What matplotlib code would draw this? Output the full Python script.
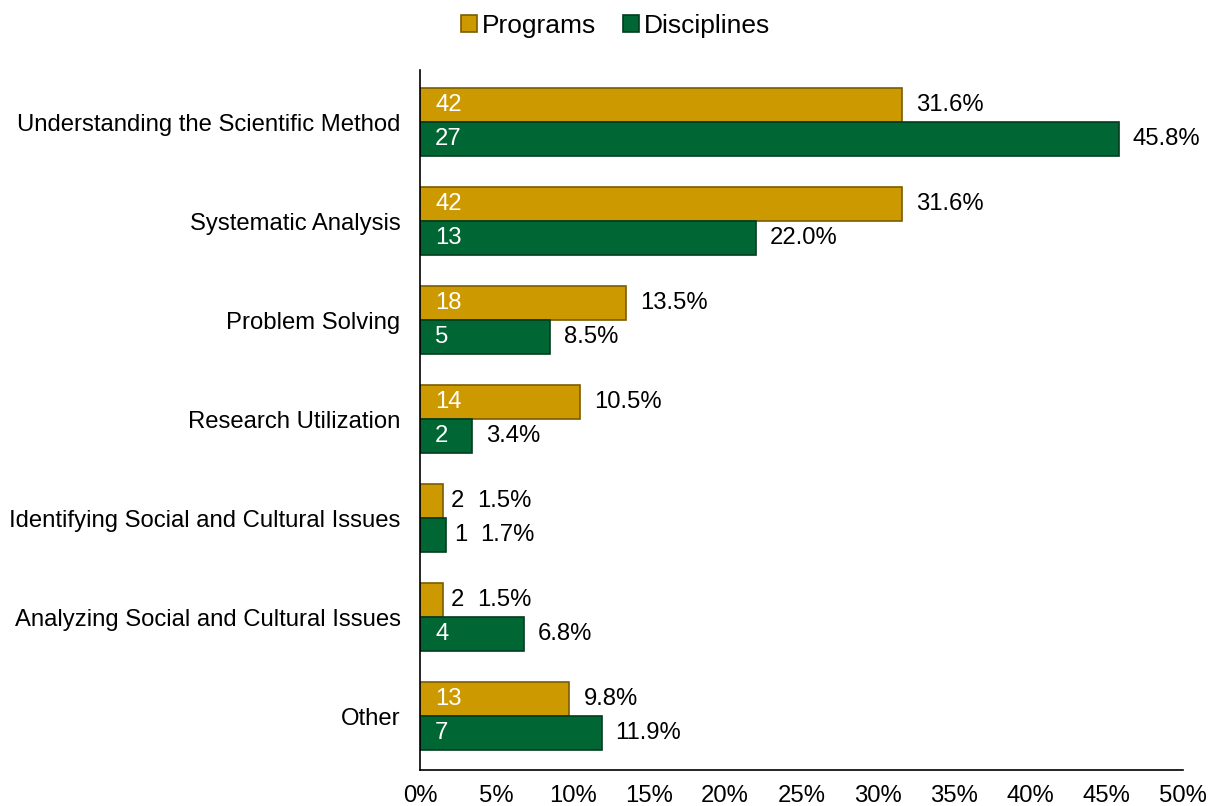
import numpy as np
import matplotlib.pyplot as plt
from matplotlib.ticker import FuncFormatter

plt.rcParams['font.family'] = ['Liberation Sans', 'DejaVu Sans']

categories = ['Understanding the Scientific Method', 'Systematic Analysis',
              'Problem Solving', 'Research Utilization',
              'Identifying Social and Cultural Issues',
              'Analyzing Social and Cultural Issues', 'Other']
prog_count = [42, 42, 18, 14, 2, 2, 13]
prog_pct = [31.6, 31.6, 13.5, 10.5, 1.5, 1.5, 9.8]
disc_count = [27, 13, 5, 2, 1, 4, 7]
disc_pct = [45.8, 22.0, 8.5, 3.4, 1.7, 6.8, 11.9]

gold = '#CC9900'
green = '#006633'

fig = plt.figure(figsize=(12.12, 8.06), dpi=100)
ax = fig.add_axes([0.3465, 0.0447, 0.6295, 0.868])

y = np.arange(len(categories))
h = 0.345
b1 = ax.barh(y - h / 2, prog_pct, height=h, color=gold, edgecolor='#7A5C00',
             linewidth=1.2, label='Programs')
b2 = ax.barh(y + h / 2, disc_pct, height=h, color=green, edgecolor='#003D1F',
             linewidth=1.2, label='Disciplines')

fs = 17.2
for yy, pct, cnt in [(y - h / 2, prog_pct, prog_count), (y + h / 2, disc_pct, disc_count)]:
    for yi, p, c in zip(yy, pct, cnt):
        if p < 3:
            ax.annotate(str(c), (p, yi), xytext=(6, 0), textcoords='offset points',
                        va='center', ha='left', fontsize=fs, color='black')
            ax.annotate(f'{p:.1f}%', (p, yi), xytext=(25, 0), textcoords='offset points',
                        va='center', ha='left', fontsize=fs, color='black')
        else:
            ax.annotate(str(c), (0, yi), xytext=(11, 0), textcoords='offset points',
                        va='center', ha='left', fontsize=fs, color='white')
            ax.annotate(f'{p:.1f}%', (p, yi), xytext=(10, 0), textcoords='offset points',
                        va='center', ha='left', fontsize=fs, color='black')

ax.set_xlim(0, 50)
ax.set_ylim(6.545, -0.525)
ax.set_xticks(np.arange(0, 51, 5))
ax.xaxis.set_major_formatter(FuncFormatter(lambda v, _: f'{v:.0f}%'))
ax.set_yticks(y)
ax.set_yticklabels(categories)
ax.tick_params(axis='both', length=0, labelsize=fs)
ax.tick_params(axis='x', pad=11)
ax.tick_params(axis='y', pad=14)
for s in ['top', 'right']:
    ax.spines[s].set_visible(False)
for s in ['left', 'bottom']:
    ax.spines[s].set_linewidth(1.2)

fig.legend(handles=[b1, b2], loc='upper center', bbox_to_anchor=(0.508, 1.012),
           ncol=2, frameon=False, fontsize=19, handlelength=0.6, handleheight=0.6,
           handletextpad=0.2, columnspacing=1.0)

fig.savefig('out.png', dpi=100)
